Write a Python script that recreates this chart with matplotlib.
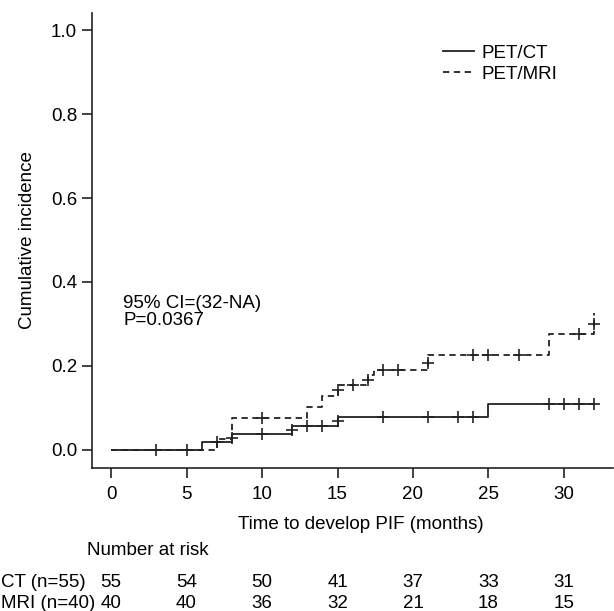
import numpy as np
import matplotlib
matplotlib.use("Agg")
import matplotlib.pyplot as plt
from matplotlib.lines import Line2D
from matplotlib.transforms import blended_transform_factory

plt.rcParams['font.family'] = ['Liberation Sans', 'DejaVu Sans']
FS = 13.5

# ---- data ----
ct_times = [0, 6, 8, 12, 15, 25, 32]
ct_cuminc = [0.0, 0.020, 0.039, 0.058, 0.079, 0.109, 0.109]
mri_times = [0, 7, 8, 13, 14, 15, 17, 17.4, 21, 29, 32]
mri_cuminc = [0.0, 0.025, 0.077, 0.103, 0.129, 0.155, 0.178, 0.190, 0.226, 0.276, 0.326]
ct_censor = [3, 5, 7, 8, 10, 12, 13, 14, 15, 18, 21, 23, 24, 29, 30, 31, 32]
mri_censor = [10, 15, 16, 17, 18, 19, 21, 24, 25, 27, 31, 32]
risk_times = [0, 5, 10, 15, 20, 25, 30]
risk_ct = [55, 54, 50, 41, 37, 33, 31]
risk_mri = [40, 40, 36, 32, 21, 18, 15]
group_labels = ["PET/CT", "PET/MRI"]
risk_labels = ["CT (n=55)", "MRI (n=40)"]
y_ticks = [0.0, 0.2, 0.4, 0.6, 0.8, 1.0]
x_ticks = [0, 5, 10, 15, 20, 25, 30]

W, H = 614, 611
fig = plt.figure(figsize=(W / 100, H / 100), dpi=100)
L, R, T, B = 91.7, 613.5, 13, 467.5
ax = fig.add_axes([L / W, (H - B) / H, (R - L) / W, (B - T) / H])
ax.set_xlim(-1.28, 33.28)
ax.set_ylim(-0.0417, 1.0405)

col = '#222222'


def mark_levels(times, vals, cens):
    times = np.asarray(times, float)
    vals = np.asarray(vals, float)
    out = []
    for t in cens:
        r = vals[np.searchsorted(times, t, 'right') - 1]
        li = np.searchsorted(times, t, 'left') - 1
        l = vals[max(li, 0)]
        out.append((r + l) / 2)
    return out


dash = (0, (3.5, 2.5))
ax.step(ct_times, ct_cuminc, where='post', color=col, lw=1.3, solid_capstyle='butt')
ax.step(mri_times, mri_cuminc, where='post', color=col, lw=1.3, linestyle=dash)
ax.plot(ct_censor, mark_levels(ct_times, ct_cuminc, ct_censor), '+', color=col, ms=8, mew=1.2)
ax.plot(mri_censor, mark_levels(mri_times, mri_cuminc, mri_censor), '+', color=col, ms=8, mew=1.2)

for s in ['top', 'right']:
    ax.spines[s].set_visible(False)
for s in ['left', 'bottom']:
    ax.spines[s].set_linewidth(1.2)
    ax.spines[s].set_color(col)

ax.set_yticks(y_ticks)
ax.set_yticklabels([f"{v:.1f}" for v in y_ticks])
ax.set_xticks(x_ticks)
ax.set_xticklabels([str(v) for v in x_ticks])
ax.tick_params(axis='y', length=7, width=1.2, color=col, pad=3.5, labelsize=FS)
ax.tick_params(axis='x', length=7, width=1.2, color=col, pad=6, labelsize=FS)

ax.set_ylabel("Cumulative incidence", fontsize=FS, labelpad=11)

# annotation
ax.text(0.8, 0.338, "95% CI=(32-NA)", fontsize=FS, ha='left', va='baseline')
ax.text(0.8, 0.298, "P=0.0367", fontsize=FS, ha='left', va='baseline')

# legend (manual)
for i, (lab, ls) in enumerate(zip(group_labels, ['-', dash])):
    yc = 51 + i * 20.7
    fig.add_artist(Line2D([443 / W, 474 / W], [(H - yc) / H] * 2, color=col, lw=1.3, linestyle=ls))
    fig.text(481.7 / W, (H - yc - 7) / H, lab, fontsize=FS, ha='left', va='baseline')

# x label
fig.text(361 / W, (H - 529) / H, "Time to develop PIF (months)", fontsize=FS, ha='center', va='baseline')

# number at risk
fig.text(87 / W, (H - 555) / H, "Number at risk", fontsize=FS, ha='left', va='baseline')
tr = blended_transform_factory(ax.transData, fig.transFigure)
for row, (lab, vals) in enumerate(zip(risk_labels, [risk_ct, risk_mri])):
    yb = 587 + row * 21
    fig.text(1 / W, (H - yb) / H, lab, fontsize=FS, ha='left', va='baseline')
    for t, v in zip(risk_times, vals):
        ax.text(t, (H - yb) / H, str(v), transform=tr, fontsize=FS, ha='center', va='baseline', clip_on=False)

fig.savefig("out.png", dpi=100)
